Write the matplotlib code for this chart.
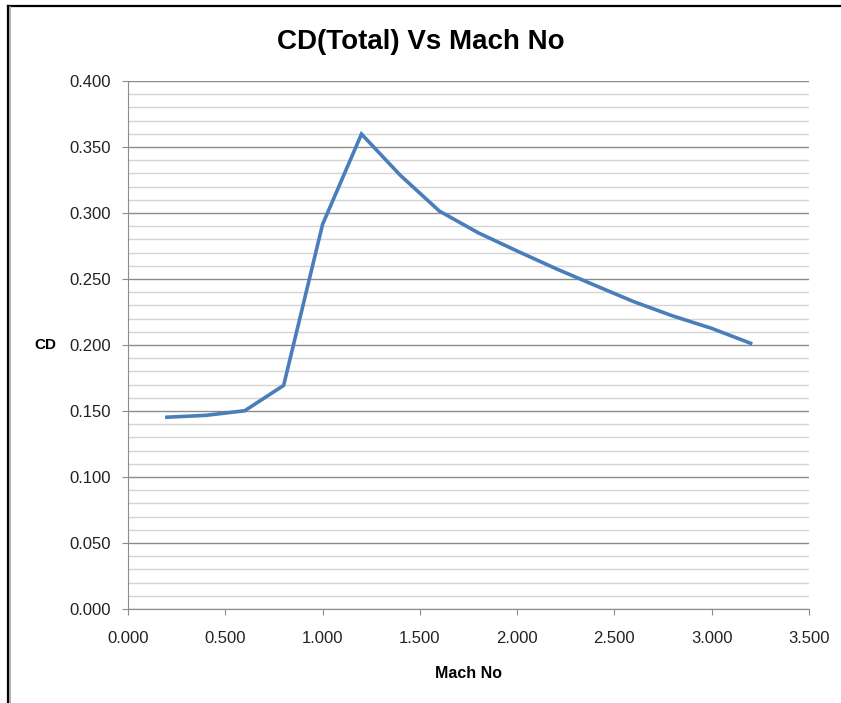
import matplotlib.pyplot as plt
from matplotlib.lines import Line2D
from matplotlib.ticker import MultipleLocator, FormatStrFormatter

# --- DATA ---
mach = [0.2, 0.4, 0.6, 0.8, 1.0, 1.2, 1.4, 1.6, 1.8, 2.0, 2.2, 2.4, 2.6, 2.8, 3.0, 3.2]
cd_total = [0.1453, 0.1467, 0.1502, 0.1694, 0.2914, 0.3598, 0.3285, 0.3015,
            0.2850, 0.2712, 0.2578, 0.2452, 0.2328, 0.2220, 0.2126, 0.2013]

plt.rcParams["font.family"] = ["Liberation Sans", "DejaVu Sans"]

W, H = 841, 703
fig = plt.figure(figsize=(W / 100, H / 100), dpi=100)
ax = fig.add_axes([128 / W, 1 - 609 / H, (809 - 128) / W, (609 - 81) / H])

ax.plot(mach, cd_total, color="#4A7EBB", linewidth=2.6, solid_joinstyle="miter", zorder=3)

ax.set_xlim(0, 3.5)
ax.set_ylim(0, 0.4)
ax.xaxis.set_major_locator(MultipleLocator(0.5))
ax.yaxis.set_major_locator(MultipleLocator(0.05))
ax.yaxis.set_minor_locator(MultipleLocator(0.01))
ax.xaxis.set_major_formatter(FormatStrFormatter("%.3f"))
ax.yaxis.set_major_formatter(FormatStrFormatter("%.3f"))

ax.grid(axis="y", which="major", color="#8c8c8c", linewidth=1.0)
ax.grid(axis="y", which="minor", color="#d4d4d4", linewidth=1.0)
ax.set_axisbelow(True)

for side in ["top", "right"]:
    ax.spines[side].set_visible(False)
for side in ["left", "bottom"]:
    ax.spines[side].set_color("#8c8c8c")

ax.tick_params(axis="both", which="major", direction="out", length=4.5, color="#8c8c8c",
               labelsize=12, labelcolor="#222222")
ax.tick_params(axis="y", which="major", pad=8)
ax.tick_params(axis="x", which="major", pad=11)
ax.tick_params(axis="y", which="minor", length=0)

ax.set_xlabel("Mach No", fontsize=11.5, fontweight="bold", labelpad=15)
ax.set_ylabel("CD", fontsize=11, fontweight="bold", rotation=0, labelpad=17, va="center")
fig.suptitle("CD(Total) Vs Mach No", y=1 - 42 / H, va="center", fontsize=20, fontweight="bold")

# chart area border (left and top edges visible)
fig.add_artist(Line2D([7.5 / W, 7.5 / W], [0, 1 - 5.5 / H], transform=fig.transFigure,
                      color="black", linewidth=1.6))
fig.add_artist(Line2D([7.5 / W, 1], [1 - 5.5 / H, 1 - 5.5 / H], transform=fig.transFigure,
                      color="black", linewidth=1.6))
fig.add_artist(Line2D([10 / W, 10 / W], [0, 1 - 7 / H], transform=fig.transFigure,
                      color="#a0a0a0", linewidth=1.2))

fig.savefig("out.png", dpi=100)
